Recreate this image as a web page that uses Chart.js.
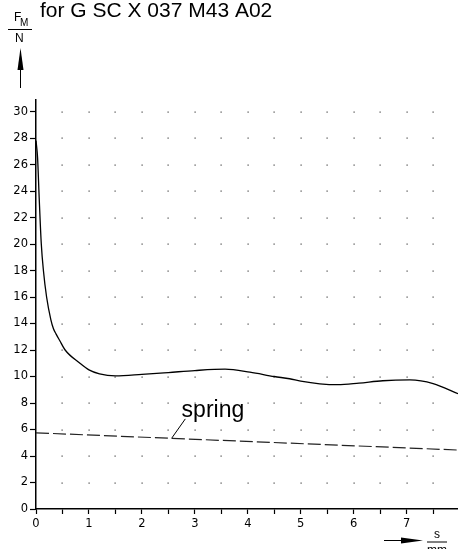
<!DOCTYPE html>
<html><head><meta charset="utf-8">
<script src="https://cdn.jsdelivr.net/npm/chart.js@4.4.0/dist/chart.umd.min.js"></script>
<style>html,body{margin:0;padding:0;background:#fff;overflow:hidden}</style>
</head><body>
<canvas id="c" width="458" height="549" style="display:block;width:458px;height:549px"></canvas>
<script>
// ---- data ----
const forceX = [0, 0.03, 0.06, 0.1, 0.14, 0.2, 0.28, 0.33, 0.38, 0.45, 0.55, 0.83, 1.0, 1.2, 1.5, 2.0, 2.5, 3.0, 3.57, 4.04, 4.5, 4.79, 5.0, 5.36, 5.7, 6.1, 6.55, 7.06, 7.5, 7.97];
const forceY = [27.8, 26.5, 23.5, 20.0, 18.0, 16.0, 14.3, 13.6, 13.2, 12.7, 12.0, 11.0, 10.5, 10.2, 10.05, 10.16, 10.3, 10.45, 10.55, 10.33, 10.0, 9.83, 9.65, 9.45, 9.38, 9.5, 9.68, 9.74, 9.47, 8.7];
const springX = [0, 7.97];
const springY = [5.75, 4.45];
const xMin = 0, xMax = 7.97, xStep = 0.5;
const yMin = 0, yMax = 30.87, yStep = 2;
const titleText = "for G SC X 037 M43 A02";
const springLabel = "spring";
const springLabelPos = {x: 2.75, y: 6.94};
const springLeader = {x1: 2.82, y1: 6.8, x2: 2.56, y2: 5.33};

const tickFont = {family: "DejaVu Sans", size: 11.5};
const sans = "'Liberation Sans', Arial, sans-serif";

const annot = {
  id: 'annot',
  beforeDatasetsDraw(chart) {
    const ctx = chart.ctx, xs = chart.scales.x, ys = chart.scales.y;
    ctx.save();
    ctx.fillStyle = '#444';
    for (const tx of xs.ticks) {
      if (tx.value <= xMin) continue;
      for (const ty of ys.ticks) {
        if (ty.value <= yMin) continue;
        const px = Math.round(xs.getPixelForValue(tx.value));
        const py = Math.round(ys.getPixelForValue(ty.value));
        ctx.fillRect(px - 0.5, py - 0.5, 1.2, 1.2);
      }
    }
    ctx.restore();
  },
  afterDraw(chart) {
    const ctx = chart.ctx, xs = chart.scales.x, ys = chart.scales.y;
    ctx.save();
    ctx.fillStyle = '#000'; ctx.strokeStyle = '#000';
    // title
    ctx.font = "21px " + sans;
    ctx.textBaseline = 'alphabetic'; ctx.textAlign = 'left';
    ctx.fillText(titleText, 40, 17);
    // y label F_M / N
    ctx.font = "12px " + sans;
    ctx.fillText("F", 14, 21);
    ctx.font = "10px " + sans;
    ctx.fillText("M", 20, 26);
    ctx.font = "12px " + sans;
    ctx.fillText("N", 15, 42);
    ctx.lineWidth = 1;
    ctx.beginPath(); ctx.moveTo(8, 29.5); ctx.lineTo(32, 29.5); ctx.stroke();
    // y arrow
    ctx.beginPath(); ctx.moveTo(20.5, 68); ctx.lineTo(20.5, 88); ctx.stroke();
    ctx.beginPath(); ctx.moveTo(20.5, 48); ctx.lineTo(23.5, 70); ctx.lineTo(17.5, 70); ctx.closePath(); ctx.fill();
    // x arrow
    ctx.beginPath(); ctx.moveTo(384, 540.5); ctx.lineTo(404, 540.5); ctx.stroke();
    ctx.beginPath(); ctx.moveTo(423, 540.5); ctx.lineTo(401, 537.5); ctx.lineTo(401, 543.5); ctx.closePath(); ctx.fill();
    // x label s / mm
    ctx.font = "12px " + sans; ctx.textAlign = 'center';
    ctx.fillText("s", 437, 538);
    ctx.beginPath(); ctx.moveTo(427, 542); ctx.lineTo(447, 542); ctx.stroke();
    ctx.fillText("mm", 437, 554);
    // spring label
    ctx.textAlign = 'left';
    ctx.font = "23px " + sans;
    ctx.fillText(springLabel, xs.getPixelForValue(springLabelPos.x), ys.getPixelForValue(springLabelPos.y));
    ctx.lineWidth = 1;
    ctx.beginPath();
    ctx.moveTo(xs.getPixelForValue(springLeader.x1), ys.getPixelForValue(springLeader.y1));
    ctx.lineTo(xs.getPixelForValue(springLeader.x2), ys.getPixelForValue(springLeader.y2));
    ctx.stroke();
    ctx.restore();
  }
};

new Chart(document.getElementById('c'), {
  type: 'line',
  data: {
    datasets: [
      {data: forceX.map((x, i) => ({x, y: forceY[i]})), borderColor: '#000', borderWidth: 1.3, pointRadius: 0, cubicInterpolationMode: 'monotone', fill: false},
      {data: springX.map((x, i) => ({x, y: springY[i]})), borderColor: '#222', borderWidth: 1.2, borderDash: [13, 4], pointRadius: 0, fill: false}
    ]
  },
  options: {
    responsive: false, animation: false, devicePixelRatio: 1,
    layout: {padding: {top: 100, left: 0, right: 0, bottom: 0}},
    plugins: {legend: {display: false}, tooltip: {enabled: false}, title: {display: false}},
    scales: {
      x: {
        type: 'linear', min: xMin, max: xMax,
        ticks: {stepSize: xStep, includeBounds: false, autoSkip: false, maxRotation: 0, color: '#000', font: tickFont, padding: 3,
          callback: v => Number.isInteger(v) ? String(v) : ''},
        grid: {drawOnChartArea: false, drawTicks: true, tickLength: 5, tickColor: '#000', tickWidth: 1.2},
        border: {display: true, color: '#000', width: 1.5},
        afterFit: s => { s.height = 40; }
      },
      y: {
        type: 'linear', min: yMin, max: yMax,
        ticks: {stepSize: yStep, includeBounds: false, autoSkip: false, color: '#000', font: tickFont, padding: 2},
        grid: {drawOnChartArea: false, drawTicks: true, tickLength: 6, tickColor: '#000', tickWidth: 1.2},
        border: {display: true, color: '#000', width: 1.5},
        afterFit: s => { s.width = 36; }
      }
    }
  },
  plugins: [annot]
});
</script>
</body></html>
